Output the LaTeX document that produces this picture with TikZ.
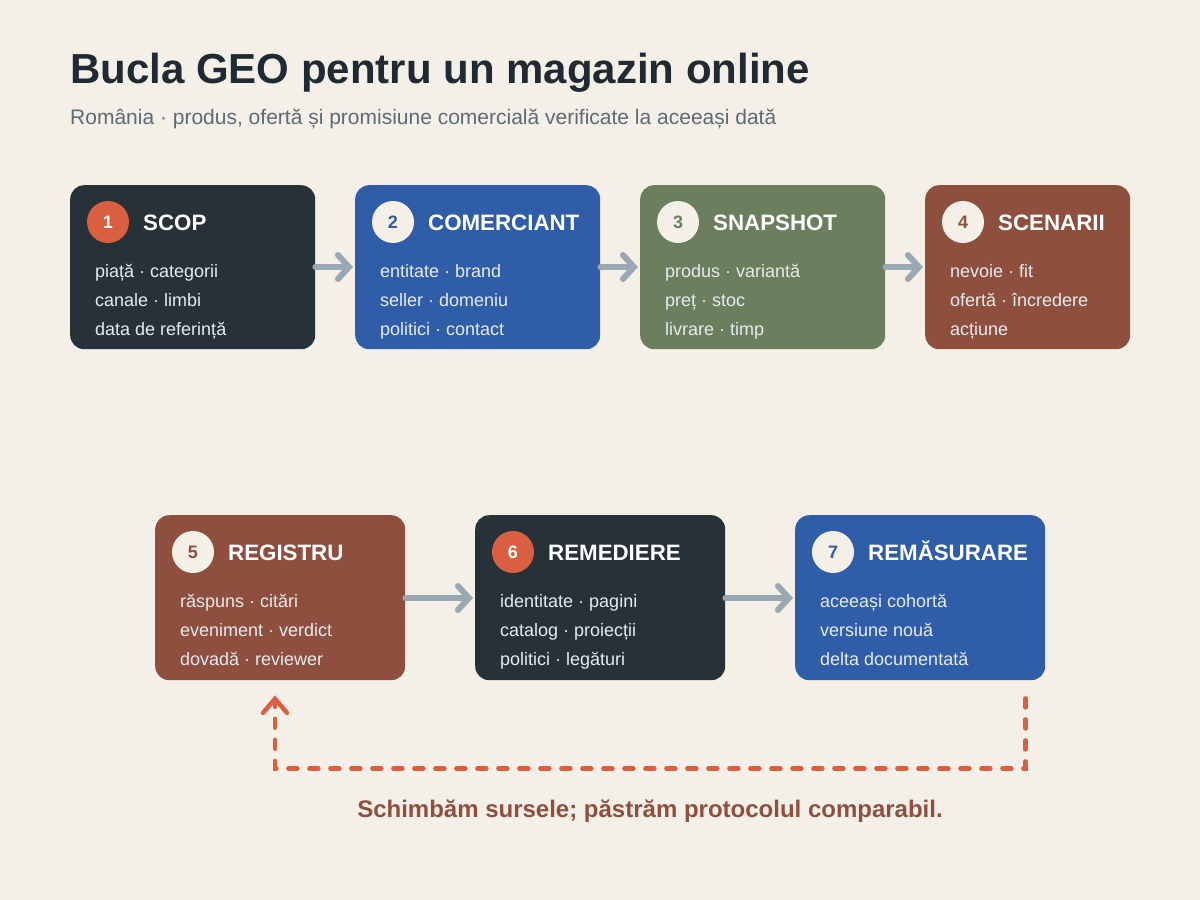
\documentclass[tikz,border=0pt]{standalone}
\usepackage{fontspec}
\setmainfont{Liberation Sans}
\usetikzlibrary{positioning,arrows.meta}
\definecolor{canvas}{HTML}{F4F0E8}
\definecolor{ink}{HTML}{1F2A33}
\definecolor{slate}{HTML}{5E6B74}
\definecolor{navy}{HTML}{263238}
\definecolor{cobalt}{HTML}{305DA8}
\definecolor{sage}{HTML}{6B7F5E}
\definecolor{rust}{HTML}{8F4F3E}
\definecolor{ember}{HTML}{D95F40}
\definecolor{steel}{HTML}{9AA8B3}
\definecolor{pale}{HTML}{E6EBEE}
\tikzset{
  stage/.style={fill=#1, rounded corners=14pt, anchor=north west, inner sep=0pt},
  badge/.style={circle, fill=#1, minimum size=42pt, inner sep=0pt, font=\fontsize{18}{18}\selectfont\bfseries},
  head/.style={anchor=base west, inner sep=0pt, text=white, font=\fontsize{22.3}{22.3}\selectfont\bfseries},
  item/.style={anchor=base west, inner sep=0pt, text=pale, font=\fontsize{18}{18}\selectfont},
  flow/.style={draw=steel, line width=6pt, line cap=round, -{Straight Barb[length=11pt,width=24pt,line cap=round]}, shorten >=2pt},
  backflow/.style={draw=ember, line width=4.5pt, line cap=round, dash pattern=on 9pt off 12pt, -{Straight Barb[length=14pt,width=24pt,line cap=round]}}
}
\begin{document}
\begin{tikzpicture}[x=1pt,y=-1pt]
      \fill[canvas] (0,0) rectangle (1200,900);
      \node[anchor=base west, inner sep=0pt, text=ink, font=\fontsize{42}{42}\selectfont\bfseries] (titlu) at (70,83) {Bucla GEO pentru un magazin online};
      \node[anchor=base west, inner sep=0pt, text=slate, font=\fontsize{21}{21}\selectfont] (subtitlu) at (70,124) {România · produs, ofertă și promisiune comercială verificate la aceeași dată};

      \node[stage=navy, minimum width=245pt, minimum height=164pt] (scop) at (70,185) {};
      \node[badge=ember, text=white] (n1) at (108,222) {1};
      \node[head] (h1) at (143,230) {SCOP};
      \node[item] at (95,277) {piață · categorii};
      \node[item] at (95,306) {canale · limbi};
      \node[item] at (95,335) {data de referință};

      \node[stage=cobalt, minimum width=245pt, minimum height=164pt] (comerciant) at (355,185) {};
      \node[badge=canvas, text=cobalt] (n2) at (393,222) {2};
      \node[head] (h2) at (428,230) {COMERCIANT};
      \node[item] at (380,277) {entitate · brand};
      \node[item] at (380,306) {seller · domeniu};
      \node[item] at (380,335) {politici · contact};

      \node[stage=sage, minimum width=245pt, minimum height=164pt] (snapshot) at (640,185) {};
      \node[badge=canvas, text=sage] (n3) at (678,222) {3};
      \node[head] (h3) at (713,230) {SNAPSHOT};
      \node[item] at (665,277) {produs · variantă};
      \node[item] at (665,306) {preț · stoc};
      \node[item] at (665,335) {livrare · timp};

      \node[stage=rust, minimum width=205pt, minimum height=164pt] (scenarii) at (925,185) {};
      \node[badge=canvas, text=rust] (n4) at (963,222) {4};
      \node[head] (h4) at (998,230) {SCENARII};
      \node[item] at (950,277) {nevoie · fit};
      \node[item] at (950,306) {ofertă · încredere};
      \node[item] at (950,335) {acțiune};

      \node[stage=rust, minimum width=250pt, minimum height=165pt] (registru) at (155,515) {};
      \node[badge=canvas, text=rust] (n5) at (193,552) {5};
      \node[head] (h5) at (228,560) {REGISTRU};
      \node[item] at (180,607) {răspuns · citări};
      \node[item] at (180,636) {eveniment · verdict};
      \node[item] at (180,665) {dovadă · reviewer};

      \node[stage=navy, minimum width=250pt, minimum height=165pt] (remediere) at (475,515) {};
      \node[badge=ember, text=white] (n6) at (513,552) {6};
      \node[head] (h6) at (548,560) {REMEDIERE};
      \node[item] at (500,607) {identitate · pagini};
      \node[item] at (500,636) {catalog · proiecții};
      \node[item] at (500,665) {politici · legături};

      \node[stage=cobalt, minimum width=250pt, minimum height=165pt] (remasurare) at (795,515) {};
      \node[badge=canvas, text=cobalt] (n7) at (833,552) {7};
      \node[head] (h7) at (868,560) {REMĂSURARE};
      \node[item] at (820,607) {aceeași cohortă};
      \node[item] at (820,636) {versiune nouă};
      \node[item] at (820,665) {delta documentată};

      \draw[flow] ([yshift=-82pt]scop.north east) -- ([yshift=-82pt]comerciant.north west);
      \draw[flow] ([yshift=-82pt]comerciant.north east) -- ([yshift=-82pt]snapshot.north west);
      \draw[flow] ([yshift=-82pt]snapshot.north east) -- ([yshift=-82pt]scenarii.north west);
      \draw[flow] ([yshift=-83pt]registru.north east) -- ([yshift=-83pt]remediere.north west);
      \draw[flow] ([yshift=-83pt]remediere.north east) -- ([yshift=-83pt]remasurare.north west);

      \coordinate (fbstart) at ([xshift=-20pt,yshift=-18pt]remasurare.south east);
      \coordinate (fbend) at ([xshift=120pt,yshift=-15pt]registru.south west);
      \draw[backflow] (fbstart) -- ++(0,70) -| (fbend);

      \node[anchor=base, inner sep=0pt, text=rust, font=\fontsize{24}{24}\selectfont\bfseries] (nota) at (650,817) {Schimbăm sursele; păstrăm protocolul comparabil.};
\end{tikzpicture}
\end{document}
